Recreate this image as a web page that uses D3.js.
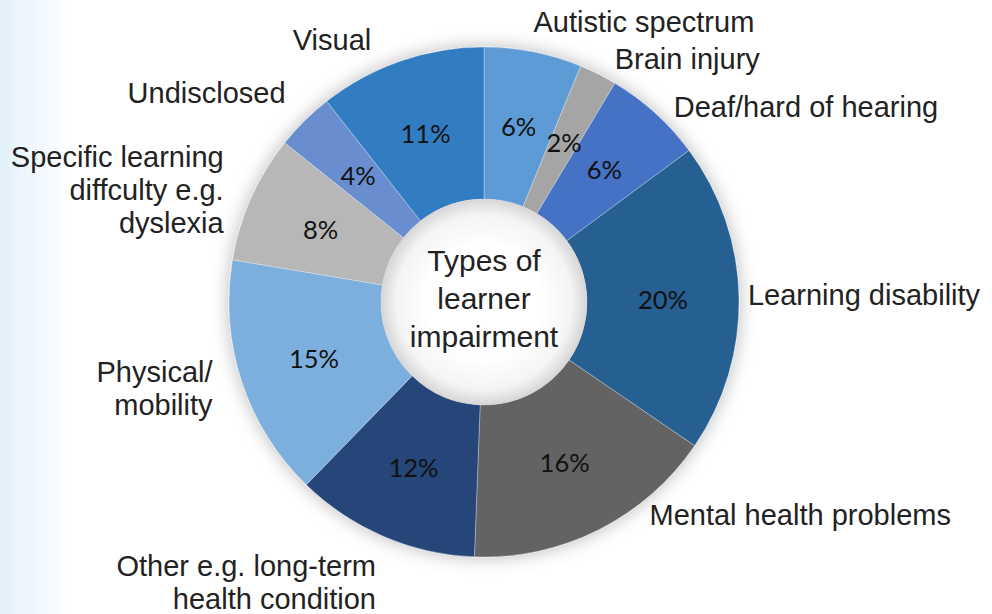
<!DOCTYPE html>
<html><head><meta charset="utf-8">
<script src="https://cdn.jsdelivr.net/npm/d3@7"></script>
<style>html,body{margin:0;padding:0;background:#fff;}svg{display:block;}</style>
</head><body>
<svg id="chart" width="992" height="614"></svg>
<script>
const categories = ["Autistic spectrum","Brain injury","Deaf/hard of hearing","Learning disability","Mental health problems","Other e.g. long-term\nhealth condition","Physical/\nmobility","Specific learning\ndiffculty e.g.\ndyslexia","Undisclosed","Visual"];
const values = [6.2, 2.4, 6.3, 19.7, 16.1, 11.7, 15.4, 8.1, 3.7, 10.6];
const colors = ["#5B9BD5","#A5A5A5","#4472C4","#255E91","#636363","#264478","#7CAFDD","#B7B7B7","#698ED0","#327DC2"];
const centerTitle = ["Types of","learner","impairment"];

const W = 992, H = 614, cx = 484, cy = 302, rOuter = 255, rInner = 103;
const svg = d3.select("#chart");
const defs = svg.append("defs");

// left background fade
const bg = defs.append("linearGradient").attr("id","bgfade").attr("x1","0").attr("x2","1").attr("y1","0").attr("y2","0");
bg.append("stop").attr("offset","0").attr("stop-color","#e3f1fb");
bg.append("stop").attr("offset","1").attr("stop-color","#ffffff");
svg.append("rect").attr("width",W).attr("height",H).attr("fill","#fff");
svg.append("rect").attr("width",70).attr("height",H).attr("fill","url(#bgfade)");

const sh = defs.append("filter").attr("id","shadow").attr("x","-20%").attr("y","-20%").attr("width","140%").attr("height","140%");
sh.append("feGaussianBlur").attr("in","SourceAlpha").attr("stdDeviation",9).attr("result","b");
sh.append("feFlood").attr("flood-color","#000").attr("flood-opacity",0.28);
sh.append("feComposite").attr("in2","b").attr("operator","in").attr("result","s");
const fm = sh.append("feMerge");
fm.append("feMergeNode").attr("in","s");
fm.append("feMergeNode").attr("in","SourceGraphic");

const hole = defs.append("radialGradient").attr("id","hole");
hole.append("stop").attr("offset","0.55").attr("stop-color","#ffffff");
hole.append("stop").attr("offset","0.85").attr("stop-color","#f4f4f4");
hole.append("stop").attr("offset","1").attr("stop-color","#d6d6d6");

const g = svg.append("g").attr("transform",`translate(${cx},${cy})`);
const pie = d3.pie().sort(null).value(d => d)(values);
const arc = d3.arc().innerRadius(rInner).outerRadius(rOuter);
const total = d3.sum(values);

const ring = g.append("g").attr("filter","url(#shadow)");
ring.selectAll("path").data(pie).join("path")
  .attr("d", arc)
  .attr("fill", (d,i) => colors[i])
  .attr("stroke","#ffffff").attr("stroke-opacity",0.5).attr("stroke-width",0.6);

g.append("circle").attr("r", rInner).attr("fill","url(#hole)");

// percentage labels
g.selectAll("text.pct").data(pie).join("text").attr("class","pct")
  .attr("transform", d => `translate(${arc.centroid(d)})`)
  .attr("text-anchor","middle").attr("dominant-baseline","central")
  .style("font-family","Lato, 'Open Sans', sans-serif").style("font-size","25.5px").attr("fill","#111")
  .text(d => Math.round(d.value / total * 100) + "%");

// outer labels
const labelArc = d3.arc().innerRadius(272).outerRadius(272);
const nudge = [[-3,-13],[9,0],[7,6],[-8,-2],[43,-30],[-1,30],[-13,2],[-12,-1],[-7,-16],[-24,-5]];
const lh = 33;
pie.forEach((d,i) => {
  const [bx,by] = labelArc.centroid(d);
  const mid = (d.startAngle + d.endAngle)/2;
  const anchor = Math.sin(mid) >= 0 ? "start" : "end";
  const lines = categories[i].split("\n");
  const x = bx + nudge[i][0], y = by + nudge[i][1] - (lines.length-1)*lh/2;
  const t = g.append("text").attr("text-anchor",anchor)
    .style("font-family","'Liberation Sans', Arial, sans-serif").style("font-size","29px").attr("fill","#222");
  lines.forEach((ln,k) => t.append("tspan").attr("x",x).attr("y",y + k*lh).attr("dominant-baseline","central").text(ln));
});

// center title
const ct = g.append("text").attr("text-anchor","middle")
  .style("font-family","'Liberation Sans', Arial, sans-serif").style("font-size","30px").attr("fill","#222");
centerTitle.forEach((ln,k) => ct.append("tspan").attr("x",0).attr("y",(k-1)*38 - 4).attr("dominant-baseline","central").text(ln));
</script>
</body></html>
